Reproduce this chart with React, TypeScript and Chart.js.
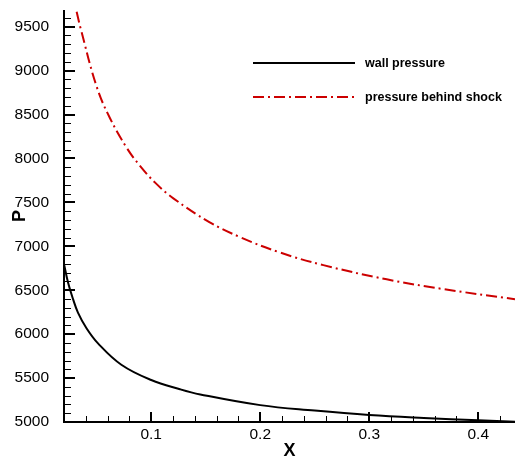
import React, { useEffect, useRef } from 'react';
import { Chart, registerables } from 'chart.js';

Chart.register(...registerables);

// ---- data ----
const WALL_LABEL = 'wall pressure';
const WALL_X = [0.02, 0.0237, 0.0283, 0.0328, 0.0405, 0.0512, 0.0726, 0.1, 0.1264, 0.145, 0.2, 0.25, 0.3, 0.35, 0.4, 0.4337];
const WALL_P = [6800, 6588, 6399, 6246, 6070, 5895, 5652, 5478, 5373, 5314, 5192, 5130, 5080, 5046, 5019, 5002];

const SHOCK_LABEL = 'pressure behind shock';
const SHOCK_X = [0.0316, 0.0353, 0.05, 0.0622, 0.0777, 0.0897, 0.1043, 0.1203, 0.1533, 0.1815, 0.218, 0.2579, 0.316, 0.368, 0.4337];
const SHOCK_P = [9670, 9478, 8816, 8458, 8118, 7916, 7716, 7546, 7276, 7105, 6930, 6786, 6624, 6513, 6398];

const X_TICKS = [0.1, 0.2, 0.3, 0.4];
const Y_TICKS = [5000, 5500, 6000, 6500, 7000, 7500, 8000, 8500, 9000, 9500];
const X_MINOR_STEP = 0.02;
const Y_MINOR_STEP = 100;
const X_MIN = 0.02;
const X_MAX = 0.4337;
const Y_MIN = 5000;
const Y_MAX = 9690;
const X_TITLE = 'X';
const Y_TITLE = 'P';

const FONT = '"Liberation Sans", Arial, Helvetica, sans-serif';
const RED = '#cc0000';
const SHOCK_DASH = [11, 4, 2, 4];

const axesPlugin = {
  id: 'tecplotAxes',
  afterDatasetsDraw(chart: any) {
    const { ctx, chartArea } = chart;
    const { left, right, top, bottom } = chartArea;
    const xs = chart.scales.x;
    const ys = chart.scales.y;
    ctx.save();
    ctx.strokeStyle = '#000';
    ctx.lineCap = 'butt';
    ctx.lineWidth = 2;
    ctx.beginPath();
    ctx.moveTo(left, top);
    ctx.lineTo(left, bottom + 1);
    ctx.moveTo(left - 1, bottom);
    ctx.lineTo(right, bottom);
    ctx.stroke();
    ctx.lineWidth = 1;
    ctx.beginPath();
    for (let i = 1; Y_MIN + i * Y_MINOR_STEP < Y_MAX; i++) {
      const v = Y_MIN + i * Y_MINOR_STEP;
      if (Math.abs(v / 500 - Math.round(v / 500)) < 1e-6) continue;
      const py = Math.round(ys.getPixelForValue(v)) + 0.5;
      ctx.moveTo(left, py);
      ctx.lineTo(left + 7, py);
    }
    for (let i = 1; X_MIN + i * X_MINOR_STEP < X_MAX; i++) {
      const v = X_MIN + i * X_MINOR_STEP;
      if (Math.abs(v * 10 - Math.round(v * 10)) < 1e-6) continue;
      const px = Math.round(xs.getPixelForValue(v)) + 0.5;
      ctx.moveTo(px, bottom);
      ctx.lineTo(px, bottom - 6);
    }
    ctx.stroke();
    ctx.lineWidth = 2;
    ctx.beginPath();
    for (const v of Y_TICKS) {
      const py = Math.round(ys.getPixelForValue(v));
      ctx.moveTo(left, py);
      ctx.lineTo(left + 11, py);
    }
    for (const v of X_TICKS) {
      const px = Math.round(xs.getPixelForValue(v));
      ctx.moveTo(px, bottom);
      ctx.lineTo(px, bottom - 10);
    }
    ctx.stroke();
    ctx.restore();
  },
};

const legendPlugin = {
  id: 'insideLegend',
  afterDraw(chart: any) {
    const { ctx } = chart;
    const x0 = 253;
    const x1 = 355;
    const tx = 365;
    const rows = [63, 97];
    ctx.save();
    chart.data.datasets.forEach((ds: any, i: number) => {
      const y = rows[i];
      ctx.strokeStyle = ds.borderColor;
      ctx.lineWidth = ds.borderWidth;
      ctx.setLineDash(ds.borderDash || []);
      ctx.beginPath();
      ctx.moveTo(x0, y);
      ctx.lineTo(x1, y);
      ctx.stroke();
      ctx.setLineDash([]);
      ctx.fillStyle = '#000';
      ctx.font = `bold 12.5px ${FONT}`;
      ctx.textAlign = 'left';
      ctx.textBaseline = 'middle';
      ctx.fillText(ds.label, tx, y + 0.5);
    });
    ctx.restore();
  },
};

export default function App() {
  const ref = useRef<HTMLCanvasElement | null>(null);

  useEffect(() => {
    if (!ref.current) return;
    const wall = WALL_X.map((x, i) => ({ x, y: WALL_P[i] }));
    const shock = SHOCK_X.map((x, i) => ({ x, y: SHOCK_P[i] }));
    const chart = new Chart(ref.current, {
      type: 'line',
      data: {
        datasets: [
          {
            label: WALL_LABEL,
            data: wall,
            borderColor: '#000',
            borderWidth: 2,
            pointRadius: 0,
            tension: 0.4,
            fill: false,
          },
          {
            label: SHOCK_LABEL,
            data: shock,
            borderColor: RED,
            borderWidth: 2,
            borderDash: SHOCK_DASH,
            pointRadius: 0,
            tension: 0.4,
            fill: false,
          },
        ],
      },
      options: {
        responsive: false,
        animation: false,
        devicePixelRatio: 1,
        layout: { padding: { top: 10, right: 0, left: 0, bottom: 0 } },
        plugins: { legend: { display: false }, tooltip: { enabled: false } },
        scales: {
          x: {
            type: 'linear',
            min: X_MIN,
            max: X_MAX,
            grid: { display: false },
            border: { display: false },
            afterBuildTicks: (s: any) => {
              s.ticks = X_TICKS.map((v) => ({ value: v }));
            },
            afterFit: (s: any) => {
              s.height = 40;
              s.paddingLeft = 0;
              s.paddingRight = 0;
              s.paddingTop = 0;
              s.paddingBottom = 0;
            },
            ticks: {
              padding: -4.5,
              color: '#000',
              font: { family: FONT, size: 15.5 },
              maxRotation: 0,
              autoSkip: false,
              callback: (v: any) => String(v),
            },
            title: {
              display: true,
              text: X_TITLE,
              color: '#000',
              font: { family: FONT, size: 18, weight: 'bold' },
              padding: { top: 0, bottom: 0 },
            },
          },
          y: {
            type: 'linear',
            min: Y_MIN,
            max: Y_MAX,
            grid: { display: false },
            border: { display: false },
            afterBuildTicks: (s: any) => {
              s.ticks = Y_TICKS.map((v) => ({ value: v }));
            },
            afterFit: (s: any) => {
              s.width = 64;
              s.paddingLeft = 0;
              s.paddingRight = 0;
              s.paddingTop = 0;
              s.paddingBottom = 0;
            },
            ticks: {
              padding: 7,
              color: '#000',
              font: { family: FONT, size: 15.5 },
              autoSkip: false,
              callback: (v: any) => String(v),
            },
            title: {
              display: true,
              text: Y_TITLE,
              color: '#000',
              font: { family: FONT, size: 18, weight: 'bold' },
              padding: { top: 9, bottom: 0 },
            },
          },
        },
      },
      plugins: [axesPlugin, legendPlugin],
    } as any);
    return () => chart.destroy();
  }, []);

  return (
    <div style={{ position: 'absolute', left: 0, top: 0, width: 515, height: 462, background: '#fff' }}>
      <canvas ref={ref} width={515} height={462} style={{ display: 'block' }} />
    </div>
  );
}
